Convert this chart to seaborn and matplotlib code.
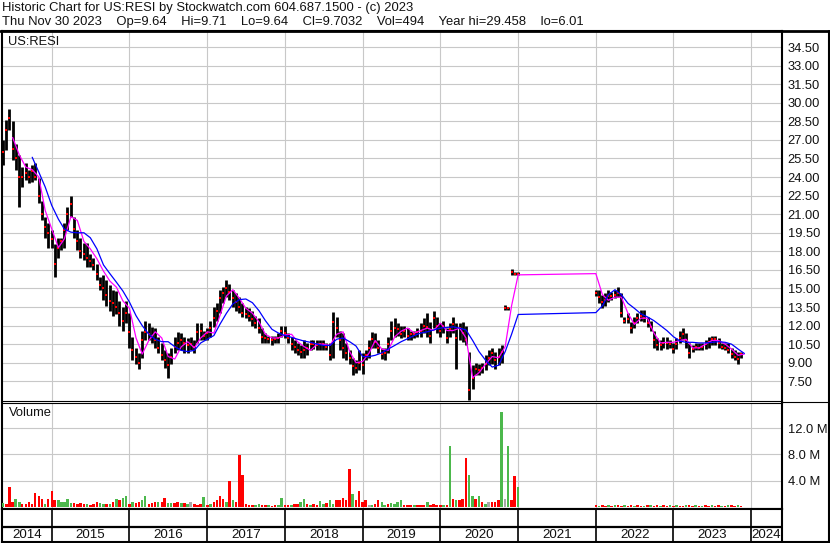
import matplotlib
matplotlib.use('Agg')
import matplotlib.pyplot as plt
import matplotlib.dates as mdates
from matplotlib.lines import Line2D
import seaborn as sns
import pandas as pd
import numpy as np

## values (semi-monthly bars)
# 2014-05-15 .. 2021-01-01
lo1 = [25.0, 26.2, 27.8, 25.4, 24.6, 21.6, 23.2, 23.8, 23.5, 23.6,
       23.8, 21.9, 20.5, 19.1, 18.3, 18.3, 15.9, 17.5, 18.1, 18.3,
       19.7, 20.8, 19.1, 18.1, 17.5, 17.3, 16.7, 16.7, 16.5, 15.7,
       14.9, 14.05, 13.6, 13.2, 12.8, 12.9, 12.0, 11.6, 12.2, 10.2,
       9.2, 8.9, 8.5, 9.4, 10.8, 10.8, 10.6, 10.2, 9.8, 9.2,
       8.6, 7.8, 8.9, 9.75, 10.0, 10.0, 9.8, 9.8, 10.0, 9.75,
       10.6, 10.8, 10.8, 10.8, 11.1, 11.9, 12.4, 13.0, 13.8, 14.3,
       14.05, 13.5, 13.2, 13.0, 12.7, 12.6, 12.4, 12.0, 11.8, 11.4,
       10.6, 10.6, 10.6, 10.4, 10.6, 10.6, 11.1, 11.0, 10.6, 10.0,
       9.75, 9.6, 9.4, 9.4, 9.6, 10.0, 10.1, 10.0, 10.0, 10.0,
       10.0, 9.2, 9.4, 11.1, 10.0, 9.4, 9.2, 8.9, 8.0, 8.2,
       8.4, 8.1, 9.2, 9.4, 10.2, 10.2, 9.75, 9.3, 9.2, 9.75,
       10.8, 11.1, 11.2, 11.0, 11.1, 10.8, 10.8, 11.0, 11.1, 11.1,
       11.4, 11.1, 10.6, 11.8, 11.4, 11.1, 11.4, 10.6, 11.1, 11.4,
       8.5, 10.8, 10.7, 10.4, 6.0, 6.9, 8.0, 8.0, 8.2, 8.4,
       8.8, 8.9, 8.5, 8.8, 9.0, 13.3, 13.3, 16.1, 16.1, 16.1]
hi1 = [27.0, 28.6, 29.46, 28.5, 26.7, 25.8, 24.8, 25.1, 24.6, 25.0,
       25.1, 23.9, 22.1, 20.8, 20.3, 19.7, 18.6, 19.1, 19.1, 20.3,
       21.6, 22.5, 20.8, 19.7, 19.1, 18.7, 18.7, 17.8, 17.5, 17.0,
       15.9, 16.1, 15.7, 15.3, 14.9, 14.8, 14.0, 13.5, 14.0, 13.0,
       11.1, 10.2, 9.75, 11.6, 12.4, 12.2, 11.9, 11.8, 11.1, 10.6,
       10.0, 9.75, 10.2, 11.1, 11.5, 11.4, 11.1, 11.0, 11.1, 10.8,
       12.2, 12.2, 11.6, 11.8, 12.4, 13.5, 13.8, 14.9, 15.1, 15.7,
       15.4, 14.9, 14.6, 14.3, 13.8, 13.5, 13.4, 13.2, 12.8, 12.6,
       11.8, 11.4, 11.2, 11.2, 11.2, 11.4, 12.0, 12.0, 11.4, 11.1,
       10.8, 10.6, 10.4, 10.8, 10.6, 10.8, 10.8, 10.8, 10.8, 10.8,
       10.6, 10.6, 13.1, 12.7, 11.6, 11.4, 10.6, 10.0, 9.4, 9.2,
       10.0, 9.75, 10.0, 10.8, 11.5, 11.4, 10.8, 10.2, 10.2, 11.1,
       12.4, 12.6, 12.2, 12.0, 12.0, 11.8, 11.6, 11.6, 11.8, 12.2,
       12.6, 13.0, 12.3, 13.2, 12.7, 12.2, 12.4, 11.8, 12.2, 12.7,
       12.2, 12.2, 12.3, 12.0, 9.85, 8.8, 9.0, 8.9, 9.0, 9.6,
       10.0, 10.2, 9.85, 10.2, 10.4, 13.7, 13.5, 16.6, 16.3, 16.3]
cl1 = [26.0, 27.8, 28.8, 26.3, 25.5, 24.0, 24.0, 24.3, 24.0, 24.5,
       24.0, 22.5, 21.0, 20.0, 19.5, 19.0, 17.0, 18.3, 18.8, 19.7,
       21.0, 21.8, 19.8, 18.8, 18.0, 17.8, 17.5, 17.2, 16.9, 16.2,
       15.3, 15.0, 14.5, 14.0, 13.8, 13.5, 13.0, 12.4, 13.0, 11.5,
       10.0, 9.5, 9.0, 10.8, 11.5, 11.3, 11.2, 10.8, 10.2, 9.6,
       9.2, 8.8, 9.5, 10.3, 10.6, 10.8, 10.6, 10.4, 10.5, 10.3,
       11.5, 11.6, 11.2, 11.4, 11.8, 12.6, 13.2, 14.2, 14.6, 15.0,
       14.7, 14.2, 13.9, 13.5, 13.0, 12.9, 12.8, 12.5, 12.2, 11.8,
       11.1, 11.0, 10.9, 10.8, 10.9, 11.0, 11.6, 11.4, 11.0, 10.5,
       10.3, 10.0, 9.9, 10.0, 10.2, 10.5, 10.5, 10.4, 10.5, 10.5,
       10.3, 9.6, 12.3, 11.8, 10.8, 10.2, 9.8, 9.4, 8.7, 8.6,
       9.0, 8.8, 9.6, 10.2, 10.9, 10.7, 10.2, 9.7, 9.8, 10.5,
       11.6, 11.8, 11.7, 11.3, 11.6, 11.2, 11.3, 11.3, 11.5, 11.6,
       12.0, 11.9, 11.2, 12.6, 12.0, 11.6, 12.0, 11.0, 11.7, 12.1,
       11.0, 11.8, 11.4, 10.8, 6.8, 7.8, 8.5, 8.4, 8.6, 8.9,
       9.4, 9.8, 9.2, 9.5, 9.9, 13.4, 13.4, 16.3, 16.2, 16.2]
vol1 = [0.6, 0.4, 3.0, 0.8, 1.2, 0.7, 0.5, 0.5, 0.8, 0.5,
        2.1, 1.7, 1.2, 0.5, 1.2, 2.4, 1.0, 1.0, 0.7, 0.7,
        1.2, 0.6, 0.6, 0.5, 0.6, 0.5, 0.5, 0.3, 0.5, 0.7,
        0.6, 0.5, 0.5, 0.4, 0.7, 1.2, 1.0, 1.4, 1.7, 0.5,
        0.7, 0.6, 0.8, 1.0, 1.6, 0.5, 0.6, 0.8, 0.7, 0.8,
        1.4, 0.6, 0.6, 0.6, 0.7, 0.6, 0.6, 0.5, 0.7, 0.5,
        0.3, 0.4, 1.5, 0.3, 0.5, 0.8, 1.0, 1.7, 1.2, 0.7,
        4.0, 1.0, 0.7, 7.9, 4.8, 0.4, 0.2, 0.2, 0.2, 0.5,
        0.2, 0.2, 0.2, 0.1, 0.2, 0.2, 1.4, 0.3, 0.2, 0.3,
        0.5, 0.5, 0.7, 1.2, 0.5, 0.3, 0.5, 0.2, 0.9, 0.5,
        0.6, 1.0, 0.5, 1.0, 1.1, 1.4, 1.0, 5.7, 2.0, 1.0,
        2.4, 0.7, 1.0, 0.3, 0.2, 0.5, 1.1, 0.7, 0.2, 0.5,
        0.6, 0.5, 0.7, 1.0, 0.2, 0.3, 0.2, 0.3, 0.2, 0.3,
        0.2, 0.7, 0.3, 0.5, 0.3, 0.2, 0.3, 0.2, 9.3, 1.2,
        1.1, 1.0, 1.2, 7.5, 4.8, 1.7, 1.2, 1.7, 0.7, 0.5,
        0.7, 0.7, 0.7, 1.0, 14.5, 1.2, 9.3, 1.0, 4.7, 3.0]
dir1 = ("grrrggrrrr" "rrrgrrrggg" "ggrrrrgrrr" "ggrgrgrggr" "grrggrrrgr"
        "rggrrgrgnr" "rrgrgrrrrg" "rgrrrrrrgg" "rrgrrggrrg" "rrggrgrrgg"
        "rggrrrrrgr" "rrrngrrggr" "ggggrrrgrr" "rgrrrrgrgr" "grrrggrgrg"
        "nrrrgngrrg")

# 2022-01-01 .. 2023-11-15
lo2 = [14.4, 13.8, 13.4, 13.6, 13.9, 14.05, 14.2, 14.3, 12.7, 12.2,
       12.2, 11.4, 11.8, 12.2, 12.4, 12.3, 11.9, 11.6, 10.2, 10.0,
       10.0, 10.2, 10.1, 10.2, 9.75, 10.1, 10.6, 10.8, 10.2, 9.4,
       9.9, 10.0, 10.0, 10.0, 10.1, 10.2, 10.4, 10.4, 10.2, 10.1,
       10.0, 9.75, 9.4, 9.2, 8.9, 9.4]
hi2 = [14.9, 14.9, 14.45, 14.6, 14.9, 14.7, 14.9, 15.1, 14.6, 12.7,
       13.0, 12.3, 12.7, 13.0, 13.25, 13.25, 12.7, 12.4, 11.6, 11.0,
       10.8, 11.1, 11.1, 10.8, 10.6, 11.0, 11.6, 11.8, 11.4, 10.6,
       10.4, 10.6, 10.6, 10.6, 10.8, 11.1, 11.2, 11.2, 11.0, 10.6,
       10.6, 10.6, 10.2, 10.0, 9.85, 9.85]
cl2 = [14.6, 14.3, 13.9, 14.1, 14.4, 14.4, 14.5, 14.6, 13.0, 12.4,
       12.5, 11.8, 12.2, 12.6, 12.8, 12.6, 12.2, 11.9, 10.8, 10.4,
       10.4, 10.6, 10.6, 10.5, 10.1, 10.5, 11.0, 11.3, 10.8, 9.8,
       10.1, 10.3, 10.2, 10.3, 10.5, 10.7, 10.9, 10.9, 10.6, 10.3,
       10.2, 10.0, 9.7, 9.5, 9.3, 9.7]
vol2 = [0.2, 0.15, 0.2, 0.15, 0.2, 0.15, 0.2, 0.2, 0.15, 0.2,
        0.15, 0.2, 0.15, 0.2, 0.15, 0.15, 0.2, 0.2, 0.15, 0.2,
        0.15, 0.2, 0.15, 0.2, 0.15, 0.2, 0.15, 0.15, 0.2, 0.2,
        0.15, 0.2, 0.15, 0.15, 0.2, 0.15, 0.2, 0.15, 0.2, 0.15,
        0.15, 0.2, 0.2, 0.15, 0.2, 0.15]
dir2 = "rgrrgrgrrg" "rrgrrgrgrr" "grrgrgrrgr" "rgrgrrgrrg" "rgrrgr"

# moving averages, monthly readings (magenta = short, blue = long)
ma_short1 = [27.2, 25.8, 24.8, 24.6, 24.0, 21.3,
             19.8, 18.3, 19.0, 20.8, 20.5, 18.8, 18.2, 17.4, 16.4, 15.6, 15.1, 14.0,
             13.4, 11.0, 9.7, 10.8, 11.5, 11.0, 9.5, 9.3, 10.3, 10.7, 10.2, 11.0,
             11.5, 11.4, 12.8, 14.4, 14.9, 14.2, 13.4, 13.0, 12.3, 11.3, 11.0, 11.0,
             11.25, 11.3, 10.7, 10.3, 10.0, 10.5, 10.5, 10.4, 11.3, 11.5, 9.9, 9.0,
             9.1, 9.8, 10.8, 10.1, 10.0, 11.1, 11.55, 11.8, 11.4, 11.6, 11.8, 11.6,
             12.2, 11.6, 11.6, 11.8, 11.0, 7.8, 8.2, 8.9, 9.5, 9.4, 10.3, 13.6,
             16.1]
ma_short2 = [16.2, 14.5, 14.05, 14.3, 14.3, 13.0, 12.1, 12.6, 12.6, 11.4, 10.6, 10.65,
             10.65, 10.8, 10.9, 10.2, 10.2, 10.5, 10.8, 10.8, 10.5, 10.1, 9.6,
             9.7]
ma_long1 = [25.6, 24.4, 23.2,
            21.7, 20.6, 19.8, 19.55, 19.5, 19.5, 19.1, 18.2, 16.9, 16.2, 15.5, 14.8,
            13.9, 12.8, 12.0, 11.3, 10.9, 10.7, 10.7, 10.3, 10.0, 9.9, 10.0, 10.6,
            10.9, 11.2, 12.1, 13.0, 13.75, 14.1, 14.15, 13.85, 13.2, 12.4, 11.7, 11.4,
            11.2, 11.05, 10.9, 10.75, 10.65, 10.5, 10.4, 10.4, 10.9, 11.0, 10.7, 10.35,
            9.5, 9.5, 9.6, 9.8, 10.1, 10.4, 10.7, 10.95, 11.2, 11.4, 11.5, 11.65,
            11.8, 11.85, 11.9, 11.8, 11.65, 10.8, 9.9, 9.2, 8.65, 8.8, 9.9, 11.3,
            12.9]
ma_long2 = [13.05, 13.6, 14.5, 14.9, 14.5, 13.8, 13.4, 12.95, 12.7, 12.4, 12.0, 11.6,
            11.1, 10.75, 10.65, 10.65, 10.6, 10.6, 10.65, 10.7, 10.65, 10.5, 10.1,
            9.75]

price_ticks = [7.5 + 1.5 * i for i in range(19)]
vol_ticks = [4, 8, 12]
years = list(range(2014, 2025))

title1 = 'Historic Chart for US:RESI by Stockwatch.com 604.687.1500 - (c) 2023'
title2 = ('Thu Nov 30 2023    Op=9.64    Hi=9.71    Lo=9.64    Cl=9.7032    Vol=494    '
          'Year hi=29.458    lo=6.01')

# dates for everything above
d1 = pd.date_range('2014-05-15', periods=len(hi1), freq='SMS')
d2 = pd.date_range('2022-01-01', periods=len(hi2), freq='SMS')
end_day = pd.Timestamp('2023-11-30')
ma_s_dates = list(pd.date_range('2014-07-01', '2021-01-01', freq='MS')) + \
    list(pd.date_range('2022-01-01', '2023-11-01', freq='MS')) + [end_day]
ma_l_dates = list(pd.date_range('2014-10-01', '2021-01-01', freq='MS')) + \
    list(pd.date_range('2022-01-01', '2023-11-01', freq='MS')) + [end_day]
ma_df = pd.DataFrame({'date': ma_s_dates, 'val': ma_short1 + ma_short2})
ma_df2 = pd.DataFrame({'date': ma_l_dates, 'val': ma_long1 + ma_long2})

vol_colors = {'r': '#ff0000', 'g': '#4cb84c', 'n': '#a8a8a8'}

sns.set_theme(style='white')
plt.rcParams['font.family'] = ['Liberation Sans', 'DejaVu Sans']

W, H = 830, 543
fig = plt.figure(figsize=(W / 100, H / 100), dpi=100)


def box(x0, y0, x1, y1):
    # pixel box (from top-left) -> figure fraction
    return [x0 / W, 1 - y1 / H, (x1 - x0) / W, (y1 - y0) / H]


ax = fig.add_axes(box(2, 31, 782, 400.5))
axv = fig.add_axes(box(2, 402.5, 782, 508.5))
axd = fig.add_axes(box(2, 508.5, 782, 541.5))

xl = (mdates.date2num(pd.Timestamp('2014-05-12')), mdates.date2num(pd.Timestamp('2024-05-25')))
ybound = [mdates.date2num(pd.Timestamp(f'{y}-01-01')) for y in years[1:]]

# price bars
for d, lo, hi, cl in [(d1, lo1, hi1, cl1), (d2, lo2, hi2, cl2)]:
    ax.vlines(d, lo, hi, color='black', lw=2.0, zorder=3)
    sns.scatterplot(x=d, y=cl, ax=ax, color='red', marker='s', s=4, linewidth=0,
                    zorder=4, legend=False)
sns.lineplot(data=ma_df, x='date', y='val', ax=ax, color='#ff00ff', lw=0.9, zorder=5)
sns.lineplot(data=ma_df2, x='date', y='val', ax=ax, color='#0000ff', lw=0.9, zorder=5)

ax.set_xlim(xl)
ax.set_ylim(5.95, 35.8)
ax.set_yticks(price_ticks)
ax.yaxis.set_major_formatter('{x:.2f}')
ax.yaxis.tick_right()
ax.set_xticks(ybound)
ax.tick_params(axis='x', length=0, labelbottom=False)
ax.tick_params(axis='y', length=0, pad=4, labelsize=9.3, labelcolor='#111111')
ax.grid(True, color='#c8c8c8', lw=0.8)
ax.set_xlabel('')
ax.set_ylabel('')

# volume
for d, v, dr in [(d1, vol1, dir1), (d2, vol2, dir2)]:
    axv.bar(d, v, width=12, color=[vol_colors[c] for c in dr], linewidth=0, zorder=3)
axv.set_xlim(xl)
axv.set_ylim(-0.26, 15.9)
axv.set_yticks(vol_ticks)
axv.yaxis.set_major_formatter('{x:.1f} M')
axv.yaxis.tick_right()
axv.set_xticks(ybound)
axv.tick_params(axis='x', length=0, labelbottom=False)
axv.tick_params(axis='y', length=0, pad=4, labelsize=9.3, labelcolor='#111111')
axv.grid(True, color='#c8c8c8', lw=0.8)

# year strip
axd.set_xlim(xl)
axd.set_ylim(0, 1)
axd.set_xticks([])
axd.set_yticks([])
axd.vlines(ybound, 0, 1, color='black', lw=1.2)
axd.axhline(14.5 / 33, color='black', lw=1.6)
edges = [xl[0]] + ybound + [xl[1]]
for i, y in enumerate(years):
    axd.text((edges[i] + edges[i + 1]) / 2, 7 / 33, str(y), ha='center', va='center',
             fontsize=9.6, color='#111111')

for a in (ax, axv, axd):
    for s in a.spines.values():
        s.set_color('black')
        s.set_linewidth(1.5)
ax.spines['bottom'].set_linewidth(0.8)
axv.spines['top'].set_linewidth(0.8)

# frame bits outside the axes
fig.add_artist(Line2D([0, 1], [1 - 31 / H] * 2, color='black', lw=2.0))
fig.add_artist(Line2D([782 / W, 1], [1 - 401.5 / H] * 2, color='black', lw=0.8))
fig.add_artist(Line2D([829 / W] * 2, [1 - 31 / H, 1 - 542 / H], color='black', lw=1.5))
fig.add_artist(Line2D([782 / W, 1], [1 - 541.5 / H] * 2, color='black', lw=1.5))

fig.text(2 / W, 1 - 8 / H, title1, va='center', fontsize=9.35, color='#111111')
fig.text(2 / W, 1 - 22 / H, title2, va='center', fontsize=9.35, color='#111111')
fig.text(8 / W, 1 - 42 / H, 'US:RESI', va='center', fontsize=9.3, color='#111111')
fig.text(9 / W, 1 - 413 / H, 'Volume', va='center', fontsize=9.3, color='#111111')

fig.savefig('out.png', dpi=100)
